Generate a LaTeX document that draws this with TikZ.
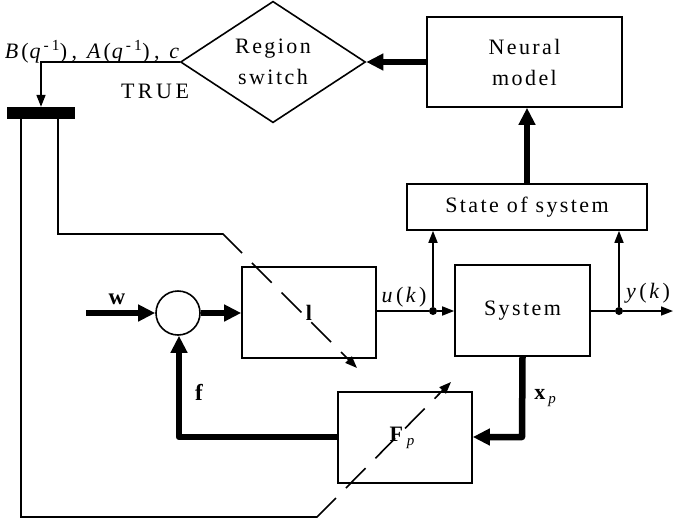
\documentclass[tikz,border=0pt]{standalone}
\usepackage{fontspec}
\setmainfont{Liberation Serif}
\usetikzlibrary{shapes.geometric,arrows.meta}
\newcommand{\ik}[1]{{\itshape #1}}
\begin{document}
\begin{tikzpicture}[x=1pt,y=-1pt,
  thin/.style={line width=1.6pt},
  thick/.style={line width=6.5pt},
  tarr/.style={thin,-{Triangle[length=12pt,width=9pt]}},
  karr/.style={thick,-{Triangle[length=17pt,width=16pt]}},
  blk/.style={draw,line width=1.6pt,rectangle,inner sep=0pt,align=center,
    font=\fontsize{22pt}{31pt}\selectfont\addfontfeature{LetterSpace=11}},
  lbl/.style={inner sep=0pt,font=\fontsize{22pt}{24pt}\selectfont},
  dashln/.style={line width=1.6pt,dash pattern=on 28pt off 14pt,dash phase=28pt},
  dotn/.style={circle,fill=black,inner sep=0pt,minimum size=8pt}]
\useasboundingbox (0,0) rectangle (674,520);
% blocks
\node[blk,minimum width=195pt,minimum height=90pt] (nm) at (524.5,62) {Neural\\model};
\node[blk,shape=diamond,minimum width=185pt,minimum height=110pt] (sw) at (273,62) {Region\\switch};
\node[blk,minimum width=240pt,minimum height=46pt] (st) at (527,207) {State of system};
\node[blk,minimum width=135pt,minimum height=91pt] (sys) at (522.5,310.5) {System};
\node[blk,minimum width=134pt,minimum height=91pt] (ctrl) at (309,312.5) {};
\node[lbl,font=\fontsize{22pt}{24pt}\selectfont\bfseries] (l) at (309,313) {l};
\node[blk,minimum width=134pt,minimum height=91pt] (fp) at (405,437.5) {};
\node[lbl] (fpl) at (402,438) {\textbf{F}\hspace{4pt}\raisebox{-4pt}{\fontsize{15pt}{15pt}\selectfont\itshape p}};
\node[draw,circle,line width=1.6pt,minimum size=44pt,inner sep=0pt] (sum) at (178,313) {};
\node[rectangle,fill=black,minimum width=68pt,minimum height=12pt,inner sep=0pt] (bar) at (41,113) {};
% coordinates
\coordinate (w0) at (86,313);
\node[dotn] (u) at (433,311) {};
\node[dotn] (y) at (619,311) {};
\coordinate (yout) at (673,311);
\coordinate (xpc) at (522,437);
\coordinate (fc) at (179,437);
\coordinate (b1) at (58,119);
\coordinate (b1c) at (58,234);
\coordinate (b1d) at (223,234);
\coordinate (b1e) at (242,253);
\coordinate (b1f) at (357,368);
\coordinate (b2) at (21,119);
\coordinate (b2c) at (21,517);
\coordinate (b2d) at (317,517);
\coordinate (b2e) at (336,498);
\coordinate (b2f) at (451,382);
% connectors
\draw[karr] (nm.west) -- (sw.east);
\draw[karr] (st.north) -- (st.north |- nm.south);
\draw[tarr] (sw.west) -| (bar.north);
\draw[karr] (w0) -- (sum.west);
\draw[karr] (sum.east) -- (ctrl.west |- sum.east);
\draw[thin] (ctrl.east |- u) -- (u);
\draw[tarr] (u) -- (sys.west |- u);
\draw[tarr] (u) -- (u |- st.south);
\draw[thin] (sys.east |- y) -- (y);
\draw[tarr] (y) -- (yout);
\draw[tarr] (y) -- (y |- st.south);
\draw[karr,line join=round] (sys.south) -- (xpc) -- (fp.east |- xpc);
\draw[karr,line join=round] (fp.west |- fc) -- (fc) -- (fc |- sum.south);
\draw[thin] (b1) -- (b1c) -- (b1d) -- (b1e);
\draw[dashln,-{Triangle[length=12pt,width=9pt]}] (b1e) -- (b1f);
\draw[thin] (b2) -- (b2c) -- (b2d) -- (b2e);
\draw[dashln,-{Triangle[length=12pt,width=9pt]}] (b2e) -- (b2f);
% labels
\node[lbl,font=\fontsize{23pt}{24pt}\selectfont\bfseries] (wl) at (117,299) {w};
\node[lbl,font=\fontsize{23pt}{24pt}\selectfont\bfseries] (fl) at (199,392) {f};
\node[lbl] (xpl) at (545,398) {\textbf{x}\hspace{3pt}\raisebox{-4pt}{\fontsize{15pt}{15pt}\selectfont\itshape p}};
\node[lbl] (ul) at (404,297) {\ik{u}\kern3.5pt(\kern2.5pt\ik{k}\kern3.5pt)};
\node[lbl] (yl) at (648,293) {\ik{y}\kern3.5pt(\kern2.5pt\ik{k}\kern3.5pt)};
\node[lbl,anchor=base] (bl) at (92,58) {\addfontfeature{LetterSpace=20}\ik{B}\kern3pt(\kern1pt\ik{q}\kern3pt\textsuperscript{-1}), \ik{A}\kern3pt(\kern1pt\ik{q}\kern3pt\textsuperscript{-1}), \ik{c}};
\node[lbl] (tl) at (155,91) {\addfontfeature{LetterSpace=16}TRUE};
\end{tikzpicture}
\end{document}
